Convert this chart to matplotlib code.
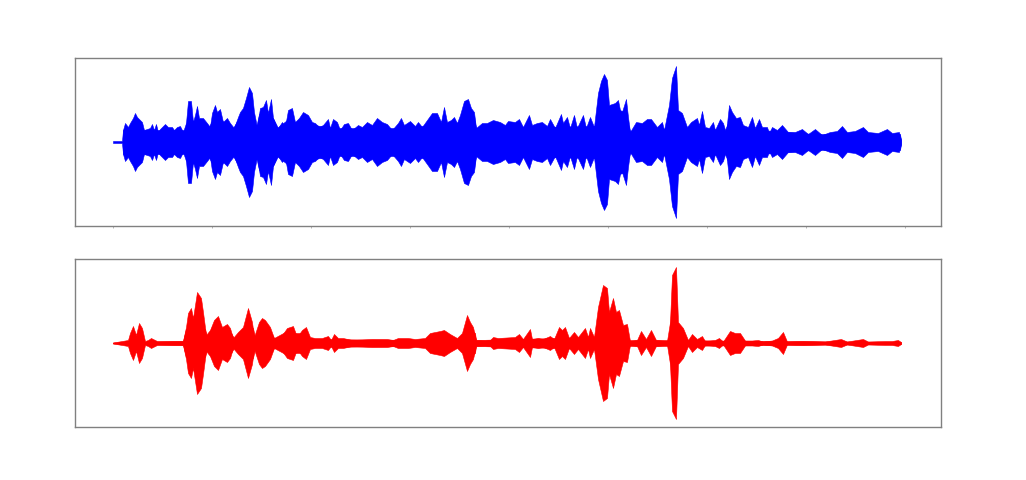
import matplotlib
matplotlib.use("Agg")
import matplotlib.pyplot as plt

blue_env = [
 (0,1),(9,1),(10,12),(12,19),(15,15),(17,19),(20,24),(22,29),(24,25),(26,23),(29,20),(31,12),(34,13),(37,14),(39,18),(41,12),(43,18),(45,10),(47,13),(52,18),(55,15),(59,15),(61,12),(64,15),(67,16),(70,10),(73,19),(75,41),(78,41),(80,20),(82,27),(84,36),(86,24),(90,24),(94,19),(97,15),(99,29),(102,37),(104,30),(107,33),(110,20),(114,24),(117,19),(121,14),(125,25),(127,30),(130,34),(133,44),(136,55),(139,49),(141,30),(144,15),(147,34),(150,35),(153,42),(155,29),(158,43),(160,24),(165,14),(169,20),(172,15),(175,32),(179,34),(182,20),(186,24),(190,30),(195,27),(199,20),
 (202,19),(206,15),(210,17),(215,23),(217,14),(220,23),(224,20),(227,12),(231,18),(235,19),(239,12),(245,17),(249,15),(254,20),(259,17),(264,24),(269,20),(274,18),(279,12),(285,19),(288,24),(291,17),(297,21),(302,16),(305,20),(309,15),(314,22),(319,29),(324,29),(328,20),(331,35),(334,20),(338,22),(341,25),(344,19),(347,27),(351,41),(355,43),(358,34),(361,30),(363,14),(369,19),(374,19),(380,22),(387,20),(392,17),(395,21),
 (402,20),(406,23),(410,15),(416,27),(419,17),(424,19),(429,20),(434,16),(437,23),(442,14),(448,28),(450,19),(454,25),(457,14),(461,27),(464,14),(470,27),(473,14),(477,25),(481,15),(485,49),(488,61),(491,68),(494,62),(496,37),(502,39),(505,42),(508,27),(513,43),(515,25),(517,10),(523,20),(529,19),(534,23),(538,23),(544,15),(549,20),(551,12),(556,37),(559,64),(563,76),(565,32),(569,29),(574,15),(578,20),(584,24),(586,17),(589,31),(592,15),(596,14),(600,20),
 (602,12),(607,23),(610,19),(613,9),(616,37),(619,30),(623,24),(627,25),(630,17),(635,15),(639,25),(642,14),(646,23),(649,15),(654,15),(656,9),(659,15),(664,12),(669,17),(675,10),(682,10),(689,13),(695,8),(702,13),(709,7),(717,10),(724,11),(729,16),(734,10),(742,11),(750,15),(755,10),(765,9),(774,13),(779,9),(786,10),(788,2)]
blue_body = [(10,12),(72,12),(74,22),(92,20),(96,15),(100,24),(112,20),(120,14),(126,24),(140,30),(143,14),(146,28),(160,24),(164,14),(174,22),(182,20),(198,18),(216,14),(300,14),(318,18),(345,19),(361,25),(363,14),(484,16),(485,40),(512,30),(517,11),(555,13),(557,28),(568,22),(574,14),(612,12),(616,22),(630,14),(660,11),(700,8),(787,8),(788,2)]

red_env = [
 (0,0.5),(9,2),(15,3),(17,10),(20,17),(23,8),(26,20),(29,15),(32,2),(35,3),(38,5),(44,2),(55,2),(70,2),(73,16),(75,30),(78,35),(80,25),(84,51),(88,45),(90,31),(93,8),(97,13),(101,23),(105,27),(109,16),(114,19),(117,15),(120,5),(125,11),(130,16),(135,35),(139,21),(141,6),(146,21),(149,25),(152,23),(157,16),(161,5),(167,5),(174,15),(180,17),(184,6),(189,13),(193,16),(197,6),
 (202,5),(209,5),(215,7),(218,3),(221,9),(225,5),(230,5),(239,3),(259,4),(274,4),(280,3),(285,5),(295,5),(302,4),(312,5),(317,10),(322,11),(327,12),(331,13),(337,9),(344,5),(349,10),(354,28),(357,21),(360,16),(363,3),(372,2.5),(377,3),(380,6),(385,5),
 (402,6),(406,9),(410,4),(417,14),(419,4),(425,5),(430,4),(437,7),(441,4),(446,16),(449,13),(452,16),(456,5),(461,11),(465,6),(472,15),(475,6),(477,15),(481,6),(485,36),(490,58),(494,55),(496,31),(500,45),(503,31),(506,33),(510,18),(514,19),(517,2),(524,3),(528,12),(533,4),(538,13),(543,3),(554,2),(557,21),(559,68),(563,76),(565,21),(570,15),(575,3),(579,9),(584,4),(589,7),(592,2),
 (602,3),(606,5),(610,1.5),(617,12),(622,10),(627,10),(632,2.5),(639,2.5),(645,3),(650,1.5),(659,2.5),(665,5),(670,11),(674,1.5),(690,2),(712,1.5),(728,4),(734,1.5),(750,4),(755,1.5),(772,2),(779,2),(785,3),(788,1)]
red_body = [(0,0.5),(70,2),(73,14),(92,14),(94,6),(100,18),(118,10),(121,5),(130,12),(140,15),(142,6),(146,16),(156,13),(161,5),(174,12),(183,10),(190,10),(197,4),(310,3),(318,6),(340,6),(345,4),(350,8),(352,18),(362,10),(363,3),(484,6),(486,30),(510,16),(516,3),(556,3),(558,30),(565,18),(572,3),(600,2.5),(788,1)]

tick_pos = [0, 99, 198, 297, 396, 495, 594, 693, 792]
W, H = 1026, 480
panels = [(58, 226, blue_env, blue_body, "#0000ff", True),
          (259, 427, red_env, red_body, "#ff0000", False)]

fig = plt.figure(figsize=(W/100, H/100), dpi=100)
for top, bottom, env, body, col, ticks in panels:
    ax = fig.add_axes([75/W, 1-bottom/H, (941-75)/W, (bottom-top)/H])
    for series, lw in ((env, 0.4), (body, 0.4)):
        xs = [p[0] for p in series]
        amp = [p[1] for p in series]
        ax.fill_between(xs, [-a for a in amp], amp, color=col, lw=lw)
    ax.set_xlim(-38, 828)
    ax.set_ylim(-84, 84)
    ax.set_yticks([])
    ax.set_xticks(tick_pos if ticks else [])
    ax.tick_params(axis="x", length=1.5, width=0.5, color="#999999", labelbottom=False)
    for s in ax.spines.values():
        s.set_color("#808080")
        s.set_linewidth(1.0)
fig.savefig("out.png", dpi=100)
